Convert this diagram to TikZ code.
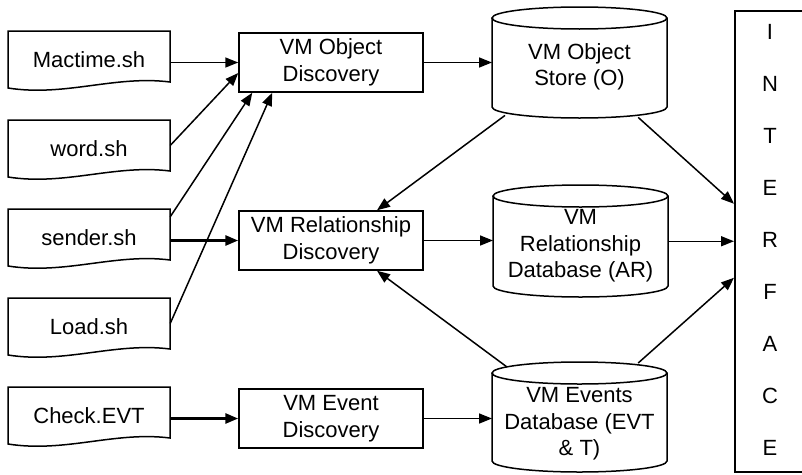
\documentclass[tikz,border=0pt]{standalone}
\usepackage{fontspec}
\setmainfont{Liberation Sans}
\usetikzlibrary{arrows.meta}
\newcommand\mydoc[3]{%
  \draw[bline] (8,#2) -- (170,#2) -- (170,{#2+51})
    .. controls (115,{#2+44}) and (65,{#2+66}) .. (8,{#2+57}) -- cycle;
  \node[docbox] (#1) at (89,{#2+25.5}) {#3};
}
\begin{document}
\begin{tikzpicture}[x=1pt,y=-1pt,
  font=\fontsize{22}{26.5}\selectfont,
  bline/.style={line width=1.5pt},
  docbox/.style={minimum width=162pt,minimum height=51pt,inner sep=0pt,text height=21pt,text depth=0pt},
  proc/.style={draw,bline,minimum width=184pt,minimum height=59pt,align=center,inner sep=0pt},
  lbl/.style={align=center,inner sep=0pt},
  arr/.style={line width=1.5pt,-{Triangle[length=13pt,width=10pt]}},
  tarr/.style={line width=2.8pt,-{Triangle[length=13pt,width=10pt]}}]
\useasboundingbox (0,0) rectangle (802,474);

\mydoc{mac}{31}{Mactime.sh}
\mydoc{word}{120}{word.sh}
\mydoc{send}{209}{sender.sh}
\mydoc{load}{298}{Load.sh}
\mydoc{chk}{387}{Check.EVT}

\node[proc] (vmod) at (331,62.5) {VM Object\\Discovery};
\node[proc] (vmrd) at (331,240.5) {VM Relationship\\Discovery};
\node[proc] (vmed) at (331,418.5) {VM Event\\Discovery};

% cylinders
\draw[bline] (492,18) -- (492,107)
  arc[start angle=180,end angle=360,x radius=87.5pt,y radius=11pt] -- (667,18);
\draw[bline] (579.5,18) ellipse[x radius=87.5pt,y radius=11pt];
\node[minimum width=175pt,minimum height=111pt,inner sep=0pt,anchor=north west] (os) at (492,7) {};
\node[lbl] (os-t) at (579.5,67) {VM Object\\Store (O)};

\draw[bline] (493,196) -- (493,286)
  arc[start angle=180,end angle=360,x radius=87.5pt,y radius=11pt] -- (668,196);
\draw[bline] (580.5,196) ellipse[x radius=87.5pt,y radius=11pt];
\node[minimum width=175pt,minimum height=112pt,inner sep=0pt,anchor=north west] (rd) at (493,185) {};
\node[lbl] (rd-t) at (580.5,246) {VM\\Relationship\\Database (AR)};

\draw[bline] (492,373) -- (492,461)
  arc[start angle=180,end angle=360,x radius=87.5pt,y radius=11pt] -- (667,373);
\draw[bline] (579.5,373) ellipse[x radius=87.5pt,y radius=11pt];
\node[minimum width=175pt,minimum height=111pt,inner sep=0pt,anchor=north west] (ed) at (492,362) {};
\node[lbl] (ed-t) at (579.5,424) {VM Events\\Database (EVT\\\& T)};

% interface
\node[draw,bline,minimum width=74pt,minimum height=461pt,inner sep=0pt,anchor=north west] (int) at (734,10) {};
\node[align=center,inner sep=0pt,font=\fontsize{22}{52}\selectfont] (int-t) at (770,239.5) {I\\N\\T\\E\\R\\F\\A\\C\\E};

% arrows
\draw[arr] (mac.east |- vmod.west) -- (vmod.west);
\draw[arr] (word.east) -- ([yshift=-10.5pt]vmod.west);
\draw[arr] ([yshift=-8pt]send.north east) -- ([xshift=14pt]vmod.south west);
\draw[arr] (load.east) -- ([xshift=34pt]vmod.south west);
\draw[tarr] (send.east |- vmrd.west) -- (vmrd.west);
\draw[tarr] (chk.east |- vmed.west) -- (vmed.west);

\draw[arr] (vmod.east) -- (vmod.east -| os.west);
\draw[arr] (vmrd.east) -- (vmrd.east -| rd.west);
\draw[arr] (vmed.east) -- (vmed.east -| ed.west);

\draw[arr] ([xshift=13pt,yshift=3pt]os.south west) -- ([xshift=46pt]vmrd.north);
\draw[arr] ([xshift=15pt,yshift=-5pt]ed.north west) -- ([xshift=46pt]vmrd.south);

\draw[arr] ([xshift=58.5pt,yshift=1pt]os.south) -- ([yshift=37.5pt]int.west);
\draw[arr] (rd.east |- int.west) -- (int.west);
\draw[arr] ([xshift=58.5pt,yshift=-1pt]ed.north) -- ([yshift=-36.5pt]int.west);
\end{tikzpicture}
\end{document}
